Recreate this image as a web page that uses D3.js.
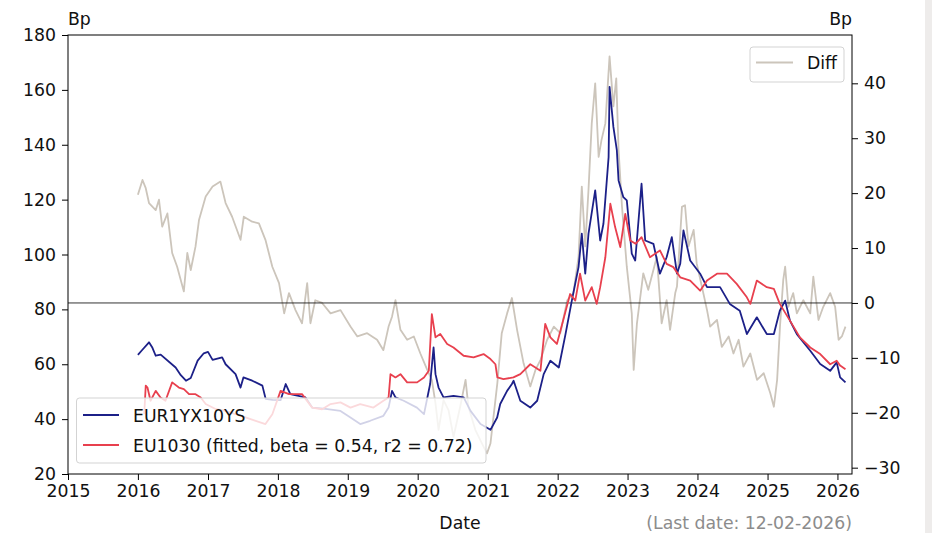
<!DOCTYPE html>
<html><head><meta charset="utf-8">
<script src="https://cdn.jsdelivr.net/npm/d3@7"></script>
<style>body{margin:0;background:#fff;}svg{display:block;}text{font-family:"DejaVu Sans",sans-serif;}</style>
</head><body><svg id="c" width="932" height="533"></svg>
<script>
const eurDates = ["2016-01-01","2016-01-21","2016-02-28","2016-03-17","2016-04-03","2016-04-29","2016-07-16","2016-08-12","2016-09-08","2016-10-03","2016-11-08","2016-12-10","2017-01-01","2017-01-25","2017-03-16","2017-04-03","2017-05-25","2017-06-20","2017-07-05","2017-08-20","2017-10-12","2017-10-29","2017-12-04","2018-01-15","2018-02-11","2018-03-07","2018-05-25","2018-06-29","2018-09-07","2018-11-24","2019-01-15","2019-03-07","2019-04-28","2019-07-06","2019-08-02","2019-08-20","2019-09-07","2019-10-20","2019-12-28","2020-02-03","2020-03-06","2020-03-24","2020-04-03","2020-04-19","2020-05-15","2020-07-06","2020-08-28","2020-10-03","2020-11-24","2021-01-15","2021-02-19","2021-03-07","2021-04-12","2021-05-07","2021-05-16","2021-06-20","2021-08-11","2021-09-16","2021-10-20","2021-11-24","2022-01-07","2022-02-11","2022-03-16","2022-04-20","2022-05-07","2022-05-25","2022-06-11","2022-07-16","2022-08-11","2022-08-28","2022-09-24","2022-09-29","2022-10-19","2022-11-06","2022-11-15","2022-12-10","2022-12-28","2023-01-23","2023-02-10","2023-03-15","2023-04-03","2023-05-16","2023-06-19","2023-07-24","2023-08-20","2023-09-16","2023-10-03","2023-10-20","2023-11-24","2024-01-15","2024-02-20","2024-04-28","2024-06-18","2024-08-09","2024-09-15","2024-11-06","2024-12-28","2025-02-03","2025-03-06","2025-04-03","2025-04-28","2025-06-03","2025-08-12","2025-10-03","2025-11-24","2025-12-28","2026-01-15","2026-02-12"];
const eurValues = [63.4,65,68,66,63.1,63.5,58.8,56,54,55,61.3,64,64.5,61.6,62.5,60,56.4,51.5,55.2,54,52.2,47.4,47,46.9,52.8,49.1,47.9,44.2,43.7,43,40.6,38.2,39.4,41.2,44.2,50.3,47.9,46.7,44.2,41.8,52.8,66.1,56.4,51.5,47.9,48.5,47.9,43,38.2,36.1,40.6,45.5,50.3,52.8,54,46.7,44.2,46.7,56.4,61.3,58.8,71,83.2,95.4,107.6,93,107.6,123.4,105.1,111.2,135.5,161.1,146.5,138,127,120.9,119.7,100.3,97.8,125.8,105.1,103.9,93,99,106.3,93,96.6,108.8,97.8,93,88.1,88.1,82,79.5,71,77.1,71,71,79.5,83.2,75.9,71,64.9,60.1,57.6,60.7,55.2,53.4];

const fitDates = ["2016-02-03","2016-02-11","2016-02-20","2016-03-07","2016-04-03","2016-04-28","2016-05-24","2016-06-28","2016-08-02","2016-08-28","2016-09-24","2016-10-28","2016-11-24","2016-12-20","2017-02-12","2017-04-03","2017-05-25","2017-07-16","2017-09-07","2017-10-28","2017-12-03","2018-01-15","2018-02-28","2018-05-07","2018-06-29","2018-08-20","2018-10-03","2018-11-24","2019-01-15","2019-03-07","2019-05-15","2019-07-06","2019-08-02","2019-08-12","2019-09-07","2019-10-03","2019-11-07","2019-12-29","2020-02-03","2020-02-28","2020-03-15","2020-04-03","2020-04-28","2020-06-03","2020-07-06","2020-08-28","2020-10-19","2020-12-10","2021-01-15","2021-02-10","2021-02-20","2021-03-24","2021-05-15","2021-06-20","2021-08-11","2021-10-03","2021-10-28","2021-11-24","2021-12-28","2022-02-03","2022-03-07","2022-04-03","2022-04-28","2022-05-25","2022-06-28","2022-07-24","2022-08-11","2022-09-07","2022-10-03","2022-10-28","2022-11-24","2022-12-20","2023-01-15","2023-02-12","2023-03-15","2023-04-28","2023-06-19","2023-07-24","2023-08-28","2023-10-03","2023-11-24","2024-01-15","2024-02-20","2024-04-12","2024-06-03","2024-07-24","2024-09-15","2024-10-03","2024-11-06","2024-12-28","2025-02-03","2025-03-06","2025-04-28","2025-06-19","2025-08-12","2025-10-03","2025-11-24","2025-12-28","2026-01-15","2026-02-12"];
const fitValues = [41.8,52.2,51.5,46.7,50.3,47.9,46.7,53.4,51.5,50.9,49.1,49.1,47.9,45.5,43.6,43,41.8,40.6,39.4,38.2,41.8,50.3,49.1,49.1,44.2,43.6,45.5,46.1,44.2,45.5,44.2,46.7,47.9,56.4,55.2,56.4,53.4,53.4,55.2,57.6,78.3,69.8,71,67.4,66.1,63.1,62.5,63.7,61.9,60,55.2,54.6,55.2,56.4,60,57.6,74.7,69.8,67.4,77.1,85.6,83.2,93,83.2,88.1,82,88.1,99,118.5,110,102.7,114.8,105.1,103.9,106.3,99,101.5,96.6,95.4,91.7,90.5,86.8,90.5,93,93,89.3,84.4,82,90.5,88.1,87.5,82,75.9,69.8,66.1,63.7,60,61.3,59.5,58.2];

const diffDates = ["2016-01-01","2016-01-25","2016-02-11","2016-02-28","2016-04-03","2016-04-20","2016-05-07","2016-06-03","2016-06-28","2016-07-24","2016-08-28","2016-09-15","2016-10-03","2016-10-28","2016-11-15","2016-12-20","2017-01-25","2017-03-07","2017-04-03","2017-05-07","2017-06-20","2017-07-07","2017-08-20","2017-09-24","2017-10-28","2017-12-03","2018-01-07","2018-02-03","2018-02-28","2018-04-03","2018-05-07","2018-06-03","2018-06-20","2018-07-15","2018-08-20","2018-10-03","2018-11-24","2019-01-15","2019-02-20","2019-04-12","2019-06-03","2019-07-06","2019-08-02","2019-08-20","2019-09-07","2019-10-03","2019-11-07","2019-12-12","2020-01-15","2020-02-20","2020-03-15","2020-04-03","2020-04-19","2020-05-15","2020-06-10","2020-07-06","2020-08-10","2020-09-07","2020-09-22","2020-10-28","2020-12-02","2020-12-28","2021-01-15","2021-02-20","2021-03-15","2021-04-12","2021-05-07","2021-06-03","2021-07-07","2021-08-11","2021-09-07","2021-10-03","2021-11-07","2021-12-12","2022-01-15","2022-02-20","2022-03-24","2022-04-20","2022-05-07","2022-05-25","2022-06-11","2022-06-28","2022-07-16","2022-08-03","2022-08-18","2022-09-07","2022-09-29","2022-10-19","2022-11-03","2022-11-15","2022-12-03","2022-12-28","2023-01-23","2023-02-02","2023-02-19","2023-03-24","2023-04-19","2023-06-03","2023-06-28","2023-07-24","2023-08-11","2023-09-07","2023-09-16","2023-10-12","2023-10-28","2023-11-15","2023-12-12","2023-12-28","2024-01-24","2024-02-20","2024-03-07","2024-04-12","2024-05-07","2024-06-12","2024-07-07","2024-08-03","2024-08-28","2024-10-03","2024-11-07","2024-12-12","2025-01-15","2025-02-03","2025-02-20","2025-03-07","2025-03-24","2025-04-03","2025-04-20","2025-05-15","2025-06-03","2025-07-07","2025-08-12","2025-08-28","2025-09-24","2025-10-19","2025-11-24","2025-12-20","2026-01-07","2026-01-24","2026-02-12"];
const diffValues = [19.7,22.4,20.9,18.2,16.9,18.8,13.9,16.3,9.1,6.6,2.1,9.1,6,10.3,15.1,19.4,21.2,22.1,18.2,15.7,11.5,15.7,14.8,14.5,11.5,6.6,3.6,-1.9,1.8,-1.3,-3.7,3.6,-3.7,0.5,0,-1.9,-1.3,-4.3,-6.1,-5.5,-6.7,-8.6,-4.3,-2.5,0.5,-4.9,-6.7,-6.1,-9.2,-12.2,-14,-18.3,-23.1,-17.7,-19.5,-24.4,-18.9,-14,-18.9,-23.1,-25.6,-27.4,-25.6,-14.6,-5.5,-1.9,0.9,-4.9,-11,-15.2,-12.2,-10.4,-6.7,-4.3,-5.5,0.5,1.8,8.4,21.2,10.3,20.6,32.7,40,26.6,29.7,32.7,44.9,35.8,40.9,27.9,17.5,6.6,-1.9,-12.2,-3.7,5.4,2.4,8.4,-3.7,0.5,-4.9,1.8,3,17.5,17.8,10.3,13.3,7.2,3,-1.3,-4.3,-3.1,-8,-6.1,-9.2,-6.7,-11.6,-9.2,-14,-12.8,-16.4,-18.9,-14,-4.3,4.2,6.6,-0.7,1.8,-1.9,0.5,-1.9,4.8,-3.1,-0.7,1.8,-0.7,-6.7,-6.1,-4.3];

const leftTicks = [20,40,60,80,100,120,140,160,180];
const rightTicks = [-30,-20,-10,0,10,20,30,40];
const yearTicks = [2015,2016,2017,2018,2019,2020,2021,2022,2023,2024,2025,2026];
const seriesNames = ["EUR1YX10YS","EU1030 (fitted, beta = 0.54, r2 = 0.72)"];
const diffName = "Diff";

const W = 932, H = 533;
const L = 68, R = 852, T = 35, B = 474;
const navy = "#1c2088", red = "#e8404e", gray = "#ccc5bb";
const lw = 1.8;
const svg = d3.select("#c");
svg.append("rect").attr("x",0).attr("y",0).attr("width",W).attr("height",H).attr("fill","#fff");
svg.append("rect").attr("x",925).attr("y",0).attr("width",7).attr("height",H).attr("fill","#eeeceb");

const parse = d3.timeParse("%Y-%m-%d");
const x = d3.scaleTime().domain([new Date(2015,0,1), new Date(2026,2,18)]).range([L,R]);
const yL = d3.scaleLinear().domain([20,180]).range([B,T]);
const yR = d3.scaleLinear().domain([-31.15,48.8]).range([B,T]);

svg.append("clipPath").attr("id","clip").append("rect").attr("x",L).attr("y",T).attr("width",R-L).attr("height",B-T);
const g = svg.append("g").attr("clip-path","url(#clip)");

const mk = (dates, vals) => dates.map((d,i)=>({d:parse(d), v:vals[i]}));
const diffData = mk(diffDates, diffValues);
const eurData = mk(eurDates, eurValues);
const fitData = mk(fitDates, fitValues);

g.append("path").datum(diffData).attr("fill","none").attr("stroke",gray).attr("stroke-width",lw).attr("stroke-linejoin","round")
  .attr("d", d3.line().x(d=>x(d.d)).y(d=>yR(d.v)));
g.append("line").attr("x1",L).attr("x2",R).attr("y1",yR(0)).attr("y2",yR(0)).attr("stroke","#000").attr("stroke-width",0.8);
g.append("path").datum(eurData).attr("fill","none").attr("stroke",navy).attr("stroke-width",lw).attr("stroke-linejoin","round")
  .attr("d", d3.line().x(d=>x(d.d)).y(d=>yL(d.v)));
g.append("path").datum(fitData).attr("fill","none").attr("stroke",red).attr("stroke-width",lw).attr("stroke-linejoin","round")
  .attr("d", d3.line().x(d=>x(d.d)).y(d=>yL(d.v)));

// axes
const fs = "17.3px";
const axL = svg.append("g").attr("transform",`translate(${L},0)`)
  .call(d3.axisLeft(yL).tickValues(leftTicks).tickSize(6).tickPadding(6).tickFormat(d3.format("d")));
const axR = svg.append("g").attr("transform",`translate(${R},0)`)
  .call(d3.axisRight(yR).tickValues(rightTicks).tickSize(6).tickPadding(6).tickFormat(d=> d<0 ? "\u2212"+Math.abs(d) : String(d)));
const axB = svg.append("g").attr("transform",`translate(0,${B})`)
  .call(d3.axisBottom(x).tickValues(yearTicks.map(y=>new Date(y,0,1))).tickSize(6).tickPadding(5).tickFormat(d3.timeFormat("%Y")));
[axL,axR,axB].forEach(a=>{
  a.selectAll("text").attr("font-size",fs).attr("fill","#111").attr("font-family","DejaVu Sans");
  a.selectAll("line").attr("stroke","#000").attr("stroke-width",1);
  a.select(".domain").remove();
});
svg.append("rect").attr("x",L).attr("y",T).attr("width",R-L).attr("height",B-T).attr("fill","none").attr("stroke","#000").attr("stroke-width",1);

// labels
svg.append("text").attr("x",L).attr("y",25).attr("font-size",fs).attr("fill","#111").text("Bp");
svg.append("text").attr("x",R).attr("y",25).attr("text-anchor","end").attr("font-size",fs).attr("fill","#111").text("Bp");
svg.append("text").attr("x",(L+R)/2).attr("y",529).attr("text-anchor","middle").attr("font-size",fs).attr("fill","#111").text("Date");
svg.append("text").attr("x",R).attr("y",529).attr("text-anchor","end").attr("font-size",fs).attr("fill","#8c8c8c").text("(Last date: 12-02-2026)");

// legend 1
const lg = svg.append("g");
lg.append("rect").attr("x",76.5).attr("y",398).attr("width",409.5).attr("height",65).attr("rx",3)
  .attr("fill","#fff").attr("fill-opacity",0.8).attr("stroke","#d3d3d3").attr("stroke-width",1);
[navy, red].forEach((c,i)=>{
  const yy = 415 + i*30;
  lg.append("line").attr("x1",83).attr("x2",119).attr("y1",yy).attr("y2",yy).attr("stroke",c).attr("stroke-width",lw);
  lg.append("text").attr("x",133).attr("y",yy+7).attr("font-size",fs).attr("fill","#111").text(seriesNames[i]);
});
// legend 2
const lg2 = svg.append("g");
lg2.append("rect").attr("x",750).attr("y",47).attr("width",94).attr("height",35).attr("rx",3)
  .attr("fill","#fff").attr("fill-opacity",0.8).attr("stroke","#d3d3d3").attr("stroke-width",1);
lg2.append("line").attr("x1",756).attr("x2",793).attr("y1",62.5).attr("y2",62.5).attr("stroke",gray).attr("stroke-width",lw);
lg2.append("text").attr("x",807).attr("y",69).attr("font-size",fs).attr("fill","#111").text(diffName);
</script></body></html>
